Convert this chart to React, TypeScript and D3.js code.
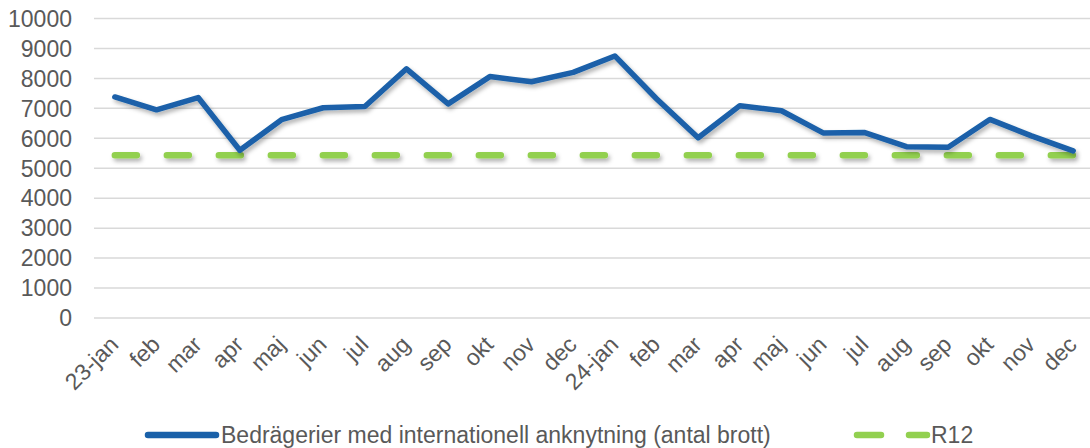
import React, { useEffect, useRef } from "react";
import * as d3 from "d3";

const months = [
  "23-jan", "feb", "mar", "apr", "maj", "jun", "jul", "aug", "sep", "okt", "nov", "dec",
  "24-jan", "feb", "mar", "apr", "maj", "jun", "jul", "aug", "sep", "okt", "nov", "dec",
];
const fraud = [
  7380, 6950, 7360, 5600, 6620, 7020, 7060, 8320, 7150, 8060, 7890, 8200,
  8750, 7320, 6020, 7090, 6920, 6180, 6190, 5720, 5700, 6630, 6080, 5580,
];
const r12 = months.map(() => 5430);
const yTicks = [0, 1000, 2000, 3000, 4000, 5000, 6000, 7000, 8000, 9000, 10000];

const seriesName = "Bedrägerier med internationell anknytning (antal brott)";
const r12Name = "R12";

const App = () => {
  const svgRef = useRef<SVGSVGElement>(null);

  useEffect(() => {
    const width = 1090;
    const height = 448;
    const font = "'Liberation Sans', Arial, sans-serif";
    const fontSize = "23px";
    const textColor = "#595959";
    const blue = "#1a61a9";
    const green = "#92d050";

    const svg = d3.select(svgRef.current).attr("width", width).attr("height", height);
    svg.selectAll("*").remove();

    // soft shadow under the series (user space so the flat R12 line keeps it)
    const f = svg
      .append("defs")
      .append("filter")
      .attr("id", "shadow")
      .attr("filterUnits", "userSpaceOnUse")
      .attr("x", 0)
      .attr("y", 0)
      .attr("width", width)
      .attr("height", height);
    f.append("feDropShadow")
      .attr("dx", 2)
      .attr("dy", 3)
      .attr("stdDeviation", 2)
      .attr("flood-color", "#000")
      .attr("flood-opacity", 0.3);

    const idx = months.map((_, i) => i);
    const x = d3.scalePoint<number>().domain(idx).range([94, 1094]).padding(0.5);
    const y = d3.scaleLinear().domain([0, 10000]).range([318, 18.5]);

    svg
      .append("g")
      .selectAll("line")
      .data(yTicks)
      .enter()
      .append("line")
      .attr("x1", 94)
      .attr("x2", 1090)
      .attr("y1", (d) => y(d))
      .attr("y2", (d) => y(d))
      .attr("stroke", "#d9d9d9")
      .attr("stroke-width", 1.5);

    svg
      .append("g")
      .selectAll("text")
      .data(yTicks)
      .enter()
      .append("text")
      .attr("x", 72)
      .attr("y", (d) => y(d))
      .attr("dy", "0.36em")
      .attr("text-anchor", "end")
      .style("font-family", font)
      .style("font-size", fontSize)
      .attr("fill", textColor)
      .text((d) => d);

    svg
      .append("g")
      .selectAll("text")
      .data(idx)
      .enter()
      .append("text")
      .attr("transform", (d) => `translate(${x(d)! + 5}, 346) rotate(-45)`)
      .attr("text-anchor", "end")
      .style("font-family", font)
      .style("font-size", fontSize)
      .attr("fill", textColor)
      .text((d) => months[d]);

    const line = d3
      .line<number>()
      .x((_, i) => x(i)!)
      .y((d) => y(d));

    svg
      .append("path")
      .datum(r12)
      .attr("d", line)
      .attr("fill", "none")
      .attr("stroke", green)
      .attr("stroke-width", 6.5)
      .attr("stroke-linecap", "round")
      .attr("stroke-dasharray", "22 30")
      .attr("filter", "url(#shadow)");

    svg
      .append("path")
      .datum(fraud)
      .attr("d", line)
      .attr("fill", "none")
      .attr("stroke", blue)
      .attr("stroke-width", 5.5)
      .attr("stroke-linejoin", "round")
      .attr("stroke-linecap", "round")
      .attr("filter", "url(#shadow)");

    // legend
    const lg = svg.append("g");
    lg.append("line")
      .attr("x1", 148)
      .attr("x2", 216)
      .attr("y1", 435)
      .attr("y2", 435)
      .attr("stroke", blue)
      .attr("stroke-width", 6.5)
      .attr("stroke-linecap", "round");
    lg.append("text")
      .attr("x", 221)
      .attr("y", 442.5)
      .style("font-family", font)
      .style("font-size", fontSize)
      .attr("fill", textColor)
      .text(seriesName);
    lg.append("line")
      .attr("x1", 857)
      .attr("x2", 927)
      .attr("y1", 435)
      .attr("y2", 435)
      .attr("stroke", green)
      .attr("stroke-width", 6.5)
      .attr("stroke-linecap", "round")
      .attr("stroke-dasharray", "24 28");
    lg.append("text")
      .attr("x", 931)
      .attr("y", 442.5)
      .style("font-family", font)
      .style("font-size", fontSize)
      .attr("fill", textColor)
      .text(r12Name);
  }, []);

  return (
    <div style={{ position: "absolute", left: 0, top: 0 }}>
      <svg ref={svgRef} style={{ display: "block" }}></svg>
    </div>
  );
};

export default App;
